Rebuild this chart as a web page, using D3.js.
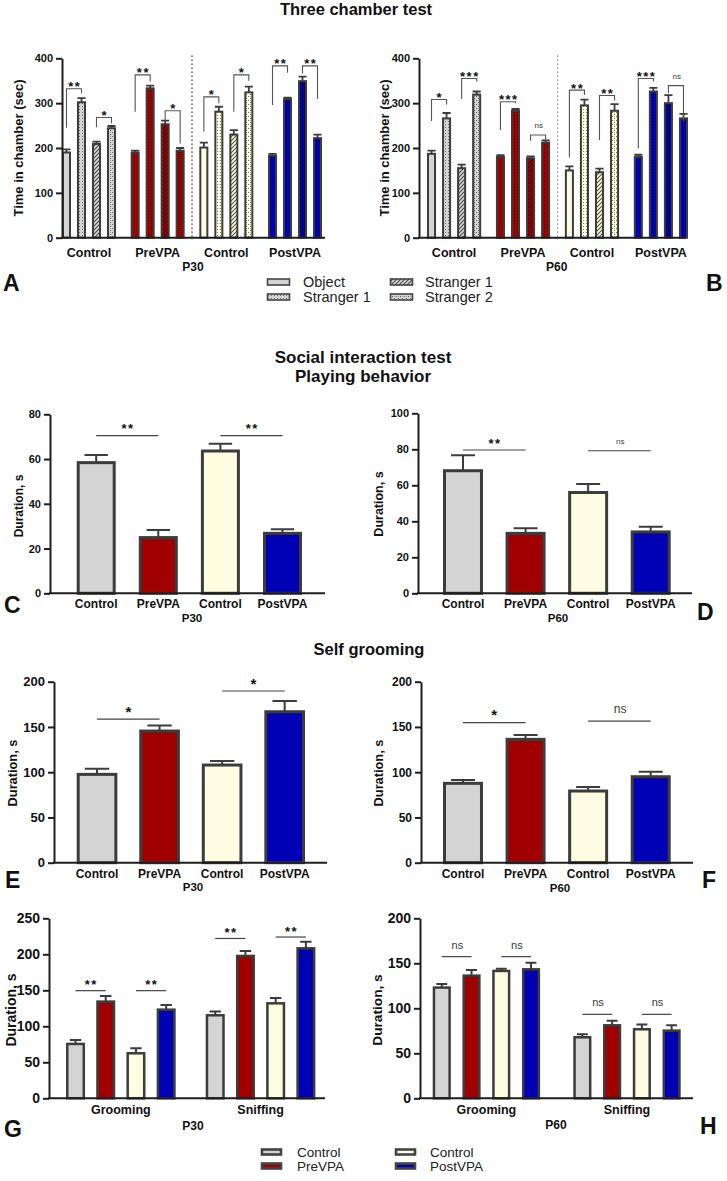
<!DOCTYPE html>
<html><head><meta charset="utf-8">
<script src="https://cdn.jsdelivr.net/npm/d3@7"></script>
<style>body{margin:0;background:#fff}svg{display:block;background:#fff}</style>
</head><body><script>
const W = 727, H = 1181;
const FONT = '"Liberation Sans", Arial, Helvetica, sans-serif';
const STROKE = "#3c3c3c", AX = "#1e1e1e";

// ---------------- data ----------------
const groupNames = ["Control", "PreVPA", "Control", "PostVPA"];
const groupColors = ["#d4d4d4", "#a00000", "#fffde1", "#0000b4"];
const patternInk = ["#4a4a4a", "#4d0000", "#55553a", "#000050"];
const chamberSubgroups = ["Object", "Stranger 1", "Stranger 1", "Stranger 2"];
const chamberTicks = [0, 100, 200, 300, 400];

const chamberP30 = [[190, 302, 209, 244], [190, 333, 253, 194], [201, 281, 230, 324], [183, 309, 349, 222]];
const chamberP30Err = [[7, 9, 5, 5], [4, 6, 8, 6], [11, 11, 10, 13], [4, 3, 10, 8]];
// [group, barA, barB, bracketTop, legA bottom, legB bottom, label]
const chamberP30Sig = [
  [0, 0, 1, 332, 245, 322, "**"], [0, 2, 3, 268, 246, 255, "*"],
  [1, 0, 1, 363, 281, 348, "**"], [1, 2, 3, 283, 262, 210, "*"],
  [2, 0, 1, 314, 236, 300, "*"], [2, 2, 3, 363, 281, 350, "*"],
  [3, 0, 1, 383, 296, 368, "**"], [3, 2, 3, 383, 366, 309, "**"]];

const chamberP60 = [[187, 266, 155, 319], [180, 283, 177, 212], [150, 295, 146, 283], [180, 326, 300, 266]];
const chamberP60Err = [[7, 12, 8, 7], [4, 4, 4, 5], [9, 13, 8, 15], [5, 8, 18, 10]];
const chamberP60Sig = [
  [0, 0, 1, 308, 260, 297, "*"], [0, 2, 3, 355, 309, 348, "***"],
  [1, 0, 1, 303, 240, 300, "***"], [1, 2, 3, 229, 216, 219, "ns"],
  [2, 0, 1, 329, 179, 318, "**"], [2, 2, 3, 317, 218, 306, "**"],
  [3, 0, 1, 355, 199, 348, "***"], [3, 2, 3, 339, 322, 259, "ns"]];

const playP30 = [58.4, 24.9, 63.6, 26.8];
const playP30Err = [3.4, 3.4, 3.2, 1.8];
const playP30Sig = [[0, 0, 1, 70.5, "**"], [0, 2, 3, 70.5, "**"]];
const playTicksP30 = [0, 20, 40, 60, 80];

const playP60 = [68.1, 33.3, 56.0, 34.1];
const playP60Err = [8.6, 2.8, 4.7, 2.9];
const playP60Sig = [[0, 0, 1, 79.6, "**"], [0, 2, 3, 79.2, "ns"]];
const playTicksP60 = [0, 20, 40, 60, 80, 100];

const groomP30 = [97.6, 145.5, 107.9, 166.8];
const groomP30Err = [6.3, 6.2, 4.4, 11.8];
const groomP30Sig = [[0, 0, 1, 158.7, "*"], [0, 2, 3, 189.7, "*"]];
const groomP60 = [87.7, 136.3, 79.2, 95.0];
const groomP60Err = [3.6, 4.7, 4.4, 5.6];
const groomP60Sig = [[0, 0, 1, 154.7, "*"], [0, 2, 3, 156.5, "ns"]];
const groomTicks = [0, 50, 100, 150, 200];

const behaviors = ["Grooming", "Sniffing"];
const behavP30 = [[75.5, 134.3, 62.5, 123.1], [115.3, 197.7, 131.9, 208.3]];
const behavP30Err = [[5.5, 7.8, 6.9, 6.5], [5.1, 6.9, 7.5, 9.3]];
const behavP30Sig = [[0, 0, 1, 149.5, "**"], [0, 2, 3, 149.5, "**"], [1, 0, 1, 222, "**"], [1, 2, 3, 224, "**"]];
const behavTicksP30 = [0, 50, 100, 150, 200, 250];
const behavP60 = [[123, 136.3, 141.5, 143.3], [67.8, 81.1, 76.7, 75.2]];
const behavP60Err = [[4, 6.3, 2.5, 7.4], [3.3, 5.2, 5.2, 5.9]];
const behavP60Sig = [[0, 0, 1, 157.4, "ns"], [0, 2, 3, 157.4, "ns"], [1, 0, 1, 93.3, "ns"], [1, 2, 3, 93.3, "ns"]];
const behavTicksP60 = [0, 50, 100, 150, 200];

const legendTreat = ["Control", "PreVPA", "Control", "PostVPA"];

// ---------------- svg ----------------
const svg = d3.select("body").append("svg").attr("width", W).attr("height", H)
  .style("font-family", FONT);
const defs = svg.append("defs");

function makePattern(id, bg, ink, kind) {
  const p = defs.append("pattern").attr("id", id).attr("patternUnits", "userSpaceOnUse");
  if (kind === "solid") return;
  if (kind === "dots") {
    p.attr("width", 3).attr("height", 3);
    p.append("rect").attr("width", 3).attr("height", 3).attr("fill", bg);
    p.append("rect").attr("x", 1).attr("y", 1).attr("width", 1).attr("height", 1).attr("fill", ink).attr("opacity", 0.75);
  } else if (kind === "hatch") {
    p.attr("width", 4).attr("height", 4);
    p.append("rect").attr("width", 4).attr("height", 4).attr("fill", bg);
    p.append("path").attr("d", "M-1,1l2,-2M0,4l4,-4M3,5l2,-2").attr("stroke", ink).attr("stroke-width", 1.1);
  } else {
    p.attr("width", 4).attr("height", 4);
    p.append("rect").attr("width", 4).attr("height", 4).attr("fill", bg);
    [[0, 0], [2, 2], [2, 0]].forEach(([a, b], i) =>
      p.append("rect").attr("x", a).attr("y", b).attr("width", 1).attr("height", 1).attr("fill", ink).attr("opacity", i === 2 ? 0.4 : 0.8));
  }
}
const kinds = ["solid", "dots", "hatch", "weave"];
groupColors.forEach((c, gi) => kinds.forEach((k, si) => makePattern(`p${gi}${si}`, c, patternInk[gi], k)));
const chamberFill = (gi, si) => si === 0 ? groupColors[gi] : `url(#p${gi}${si})`;

function txt(x, y, s, size, weight, anchor) {
  return svg.append("text").attr("x", x).attr("y", y).text(s)
    .attr("font-size", size).attr("font-weight", weight || "normal")
    .attr("text-anchor", anchor || "middle").attr("fill", "#111");
}

function panel(o) {
  const g = svg.append("g");
  const y = d3.scaleLinear().domain([0, o.max]).range([o.yBottom, o.yTop]);
  const nG = o.values.length, nS = o.values[0].length;
  const xg = d3.scaleBand().domain(d3.range(nG)).range(o.xRange).paddingInner(o.padG || 0).paddingOuter(0);
  const xs = d3.scaleBand().domain(d3.range(nS)).range([0, xg.bandwidth()]).paddingInner(o.padS).paddingOuter(0);
  const bw = xs.bandwidth();
  const cx = (gi, si) => xg(gi) + xs(si) + bw / 2;

  if (o.separator) {
    const sx = (xg(1) + xg.bandwidth() + xg(2)) / 2;
    g.append("line").attr("x1", sx).attr("x2", sx).attr("y1", y(o.max) - 3).attr("y2", y(0) + 2)
      .attr("stroke", o.separator).attr("stroke-width", 1).attr("stroke-dasharray", "2,2");
  }
  const data = [];
  o.values.forEach((row, gi) => row.forEach((v, si) => data.push({ gi, si, v, e: o.errs[gi][si] })));
  const sw = o.sw;
  g.selectAll(null).data(data).join("path")
    .attr("d", d => { const x = cx(d.gi, d.si), c = bw * o.cap / 2, t = y(d.v + d.e);
      return `M${x},${y(d.v)}V${t}M${x - c},${t}H${x + c}`; })
    .attr("fill", "none").attr("stroke", STROKE).attr("stroke-width", o.ew);
  g.selectAll(null).data(data).join("rect")
    .attr("x", d => xg(d.gi) + xs(d.si) + sw / 2).attr("width", bw - sw)
    .attr("y", d => y(d.v)).attr("height", d => y(0) - y(d.v))
    .attr("fill", d => o.fill(d.gi, d.si)).attr("stroke", STROKE).attr("stroke-width", sw);

  // axes
  const ay = g.append("g").attr("transform", `translate(${o.x0},0)`)
    .call(d3.axisLeft(y).tickValues(o.ticks).tickSize(6).tickSizeOuter(0).tickPadding(3));
  ay.select(".domain").attr("stroke", AX).attr("stroke-width", 2);
  ay.selectAll(".tick line").attr("stroke", AX).attr("stroke-width", 2);
  ay.selectAll(".tick text").attr("fill", "#111").attr("font-size", o.tickFont)
    .attr("font-weight", "bold").attr("font-family", FONT);
  g.append("line").attr("x1", o.x0 - 1).attr("x2", o.x1).attr("y1", y(0)).attr("y2", y(0))
    .attr("stroke", AX).attr("stroke-width", 2);

  // category labels
  if (o.labelsPerBar) {
    o.labels.forEach((l, si) => txt(cx(0, si), o.labelY, l, o.labelFont, "bold"));
  } else {
    o.labels.forEach((l, gi) => txt(xg(gi) + xg.bandwidth() / 2, o.labelY, l, o.labelFont, "bold"));
  }
  txt(o.subX, o.subY, o.sub, o.labelFont - 0.5, "bold");
  svg.append("text").attr("transform", `translate(${o.titleX},${o.titleY}) rotate(-90)`)
    .attr("text-anchor", "middle").attr("dy", "0.36em").attr("font-size", o.titleFont)
    .attr("font-weight", "bold").attr("fill", "#111").text(o.yTitle);

  // significance
  const drawLabel = (x, ly, lab) => {
    if (lab === "ns") {
      g.append("text").attr("x", x).attr("y", ly - o.nsDy).attr("text-anchor", "middle")
        .attr("font-size", o.nsFont).attr("fill", "#3a3a3a").text(lab);
    } else {
      g.append("text").attr("x", x).attr("y", ly + o.starDy).attr("text-anchor", "middle")
        .attr("font-size", o.starFont).attr("font-weight", "bold").attr("letter-spacing", 1.5)
        .attr("fill", "#111").text(lab);
    }
  };
  if (o.brackets) {
    o.brackets.forEach(([gi, a, b, top, la, lb, lab]) => {
      const xa = cx(gi, a), xb = cx(gi, b);
      g.append("path").attr("d", `M${xa},${y(la)}V${y(top)}H${xb}V${y(lb)}`)
        .attr("fill", "none").attr("stroke", "#555").attr("stroke-width", 1.1);
      drawLabel((xa + xb) / 2 + 0.75, y(top), lab);
    });
  }
  if (o.sig) {
    o.sig.forEach(([gi, a, b, val, lab]) => {
      const xa = cx(gi, a), xb = cx(gi, b);
      g.append("line").attr("x1", xa).attr("x2", xb).attr("y1", y(val)).attr("y2", y(val))
        .attr("stroke", "#444").attr("stroke-width", 1.2);
      drawLabel((xa + xb) / 2 + 0.75, y(val), lab);
    });
  }
}

// ---------------- titles ----------------
txt(356, 15, "Three chamber test", 16.5, "bold");
txt(363, 362.5, "Social interaction test", 17, "bold");
txt(363, 381.5, "Playing behavior", 17, "bold");
txt(369, 655, "Self grooming", 16.5, "bold");

// panel letters
[["A", 3, 291], ["B", 706, 291], ["C", 4, 613], ["D", 697, 620], ["E", 5, 888], ["F", 702, 888], ["G", 4, 1137], ["H", 700, 1134]]
  .forEach(([l, x, yy]) => txt(x, yy, l, 23, "bold", "start"));

// ---------------- panels ----------------
const common = { sw: 2, ew: 1.8, cap: 0.9, starFont: 13, nsFont: 8, starDy: 2.5, nsDy: 7 };
panel(Object.assign({}, common, {
  values: chamberP30, errs: chamberP30Err, fill: chamberFill, brackets: chamberP30Sig,
  x0: 62, x1: 325, yTop: 58.3, yBottom: 237.7, max: 400, ticks: chamberTicks,
  xRange: [62, 322], padG: 0.214, padS: 0.4, separator: "#333",
  labels: groupNames, labelY: 256.5, labelFont: 12.5, sub: "P30", subX: 193, subY: 270.5,
  tickFont: 11, yTitle: "Time in chamber (sec)", titleX: 18, titleY: 148, titleFont: 13
}));
panel(Object.assign({}, common, {
  values: chamberP60, errs: chamberP60Err, fill: chamberFill, brackets: chamberP60Sig,
  x0: 419, x1: 686, yTop: 58.3, yBottom: 237.7, max: 400, ticks: chamberTicks,
  xRange: [427, 688], padG: 0.214, padS: 0.4, separator: "#999",
  labels: groupNames, labelY: 256.5, labelFont: 12.5, sub: "P60", subX: 556.7, subY: 270.5,
  tickFont: 11, yTitle: "Time in chamber (sec)", titleX: 384, titleY: 148, titleFont: 13
}));

const colorBySub = (gi, si) => groupColors[si];
const single = { sw: 3, ew: 2, cap: 0.6, labelsPerBar: true, labels: groupNames, padG: 0 };
panel(Object.assign({}, single, {
  values: [playP30], errs: [playP30Err], fill: colorBySub, sig: playP30Sig,
  x0: 50, x1: 325, yTop: 414.3, yBottom: 593.3, max: 80, ticks: playTicksP30,
  xRange: [76.7, 302], padS: 0.372, labelY: 607.5, labelFont: 12, sub: "P30", subX: 192, subY: 621.5,
  tickFont: 11, yTitle: "Duration, s", titleX: 19, titleY: 506, titleFont: 12,
  starFont: 13, starDy: -2.5, nsFont: 8, nsDy: 7
}));
panel(Object.assign({}, single, {
  values: [playP60], errs: [playP60Err], fill: colorBySub, sig: playP60Sig,
  x0: 418, x1: 692, yTop: 413.3, yBottom: 593.3, max: 100, ticks: playTicksP60,
  xRange: [443, 670.7], padS: 0.361, labelY: 607.5, labelFont: 12, sub: "P60", subX: 558, subY: 621.5,
  tickFont: 11, yTitle: "Duration, s", titleX: 378, titleY: 504, titleFont: 12.5,
  starFont: 13, starDy: -2.5, nsFont: 8, nsDy: 7
}));
panel(Object.assign({}, single, {
  values: [groomP30], errs: [groomP30Err], fill: colorBySub, sig: groomP30Sig,
  x0: 54, x1: 327, yTop: 681.7, yBottom: 862.7, max: 200, ticks: groomTicks,
  xRange: [76.7, 305], padS: 0.35, labelY: 877.5, labelFont: 12, sub: "P30", subX: 193, subY: 890.5,
  tickFont: 13, yTitle: "Duration, s", titleX: 12, titleY: 773, titleFont: 12.8,
  starFont: 15, starDy: -2.5, nsFont: 12, nsDy: 8
}));
panel(Object.assign({}, single, {
  values: [groomP60], errs: [groomP60Err], fill: colorBySub, sig: groomP60Sig,
  x0: 421, x1: 693, yTop: 681.7, yBottom: 862.7, max: 200, ticks: groomTicks,
  xRange: [443, 670.7], padS: 0.361, labelY: 877.5, labelFont: 12, sub: "P60", subX: 560, subY: 891.5,
  tickFont: 12, yTitle: "Duration, s", titleX: 378, titleY: 773, titleFont: 12.8,
  starFont: 15, starDy: -2.5, nsFont: 12, nsDy: 8
}));
const multi = { sw: 2.5, ew: 2, cap: 0.6, labels: behaviors };
panel(Object.assign({}, multi, {
  values: behavP30, errs: behavP30Err, fill: colorBySub, sig: behavP30Sig,
  x0: 49, x1: 325, yTop: 918.3, yBottom: 1098.3, max: 250, ticks: behavTicksP30,
  xRange: [66, 315.4], padG: 0.215, padS: 0.37, labelY: 1113.5, labelFont: 12.5, sub: "P30", subX: 193, subY: 1130,
  tickFont: 14, yTitle: "Duration, s", titleX: 11, titleY: 1010, titleFont: 14,
  starFont: 13, starDy: -1.5, nsFont: 11, nsDy: 8
}));
panel(Object.assign({}, multi, {
  values: behavP60, errs: behavP60Err, fill: colorBySub, sig: behavP60Sig,
  x0: 420, x1: 693, yTop: 918.3, yBottom: 1098.3, max: 200, ticks: behavTicksP60,
  xRange: [432.7, 680.7], padG: 0.236, padS: 0.39, labelY: 1113.5, labelFont: 12.5, sub: "P60", subX: 556, subY: 1128.5,
  tickFont: 14, yTitle: "Duration, s", titleX: 377, titleY: 1010, titleFont: 13.7,
  starFont: 13, starDy: -1.5, nsFont: 11, nsDy: 8
}));

// ---------------- legends ----------------
function legend(items, fillFn, boxX, textX, rowY, boxW, boxH, sw, fs) {
  items.forEach((name, i) => {
    const col = Math.floor(i / 2), row = i % 2;
    svg.append("rect").attr("x", boxX[col]).attr("y", rowY[row] - boxH / 2)
      .attr("width", boxW).attr("height", boxH).attr("fill", fillFn(i))
      .attr("stroke", "#444").attr("stroke-width", sw);
    txt(textX[col], rowY[row] + fs * 0.36, name, fs, "normal", "start").attr("fill", "#222");
  });
}
legend(chamberSubgroups, i => chamberFill(0, i), [267.5, 390.5], [303, 425], [282, 297], 22, 6, 1.6, 14.5);
legend(legendTreat, i => groupColors[i], [262, 396], [297, 430], [1152, 1166], 19, 5, 2.6, 13.5);
</script></body></html>
